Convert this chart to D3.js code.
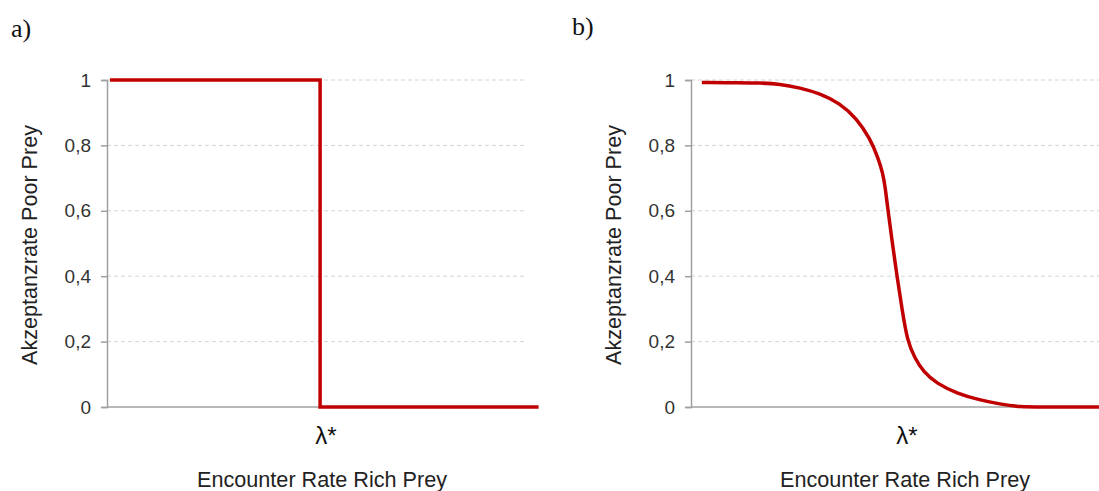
<!DOCTYPE html>
<html>
<head>
<meta charset="utf-8">
<script src="https://cdn.jsdelivr.net/npm/d3@7"></script>
<style>
  html, body { margin: 0; padding: 0; background: #fff; }
  svg { display: block; }
  text { font-family: "Liberation Sans", Arial, sans-serif; }
</style>
</head>
<body>
<svg id="chart" width="1099" height="491"></svg>
<script>
// ---- data ----
const yTicks = [0, 0.2, 0.4, 0.6, 0.8, 1];
const yTickLabels = ["0", "0,2", "0,4", "0,6", "0,8", "1"];
const panelLabels = ["a)", "b)"];
const xTitle = "Encounter Rate Rich Prey";
const yTitle = "Akzeptanzrate Poor Prey";
const lambdaLabel = "λ*";
const lambdaA = 52.5;
const lambdaB = 51.8;

// panel a: step function
const stepX = [0.7, 51.1, 51.1, 103.5];
const stepY = [1, 1, 0, 0];

// panel b: smooth decline
const smoothX = [2.6, 12, 16.5, 21.3, 26.1, 30.9, 35.7, 39.7, 42.9, 44.9, 46.0, 46.6, 47.2, 48.3, 49.4, 50.6, 51.9, 53.7, 55.7, 58.9, 63.7, 69.3, 74.1, 78.5, 85, 100];
const smoothY = [0.992, 0.992, 0.991, 0.988, 0.976, 0.959, 0.929, 0.883, 0.822, 0.761, 0.715, 0.670, 0.605, 0.500, 0.400, 0.300, 0.200, 0.149, 0.108, 0.072, 0.042, 0.021, 0.009, 0, 0, 0];

// ---- drawing ----
const svg = d3.select("#chart");
svg.append("rect").attr("width", 1099).attr("height", 491).attr("fill", "#fff");

function drawPanel(opt) {
  const x = d3.scaleLinear().domain([0, 100]).range([opt.left, opt.left + 417]);
  const y = d3.scaleLinear().domain([0, 1]).range([407, 80]);
  const g = svg.append("g");

  // gridlines
  g.selectAll(".grid").data(yTicks.filter(d => d > 0)).enter().append("line")
    .attr("x1", x(0)).attr("x2", x(100))
    .attr("y1", d => y(d)).attr("y2", d => y(d))
    .attr("stroke", "#d4d4d4").attr("stroke-width", 1)
    .attr("stroke-dasharray", "4,3");

  // y axis
  const yAxis = d3.axisLeft(y).tickValues(yTicks)
    .tickFormat((d, i) => yTickLabels[i]).tickSize(6).tickPadding(10);
  const ya = g.append("g").attr("transform", `translate(${x(0)},0)`).call(yAxis);
  ya.select(".domain").attr("stroke", "#a0a0a0").attr("stroke-width", 1.5);
  ya.selectAll(".tick line").attr("stroke", "#a0a0a0").attr("stroke-width", 1.5);
  ya.selectAll(".tick text").attr("fill", "#333").style("font-size", "19px")
    .style("font-family", '"Liberation Sans", Arial, sans-serif');

  // x axis baseline
  g.append("line").attr("x1", x(0)).attr("x2", x(100))
    .attr("y1", y(0)).attr("y2", y(0))
    .attr("stroke", "#a0a0a0").attr("stroke-width", 1.5);

  // data line
  const pts = opt.xs.map((v, i) => [v, opt.ys[i]]);
  const line = d3.line().x(d => x(d[0])).y(d => y(d[1])).curve(opt.curve);
  g.append("path").datum(pts).attr("d", line)
    .attr("fill", "none").attr("stroke", "#c00000").attr("stroke-width", 3.5)
    .attr("stroke-linejoin", "miter");

  // lambda label
  g.append("text").attr("x", x(opt.lambda)).attr("y", 444)
    .attr("text-anchor", "middle").attr("fill", "#111")
    .style("font-size", "24px").text(lambdaLabel);

  // x title
  g.append("text").attr("x", opt.titleX).attr("y", 487)
    .attr("text-anchor", "middle").attr("fill", "#222")
    .style("font-size", "22px")
    .attr("textLength", 250).attr("lengthAdjust", "spacingAndGlyphs")
    .text(xTitle);

  // y title
  g.append("text")
    .attr("transform", `translate(${x(0) - 70},245) rotate(-90)`)
    .attr("text-anchor", "middle").attr("fill", "#222")
    .style("font-size", "22px")
    .attr("textLength", 240).attr("lengthAdjust", "spacingAndGlyphs")
    .text(yTitle);

  // panel label
  g.append("text").attr("x", opt.labelX).attr("y", opt.labelY)
    .style("font-family", '"Liberation Serif", "Times New Roman", serif')
    .style("font-size", "26px").attr("fill", "#111")
    .text(opt.label);
}

drawPanel({ left: 107, xs: stepX, ys: stepY, curve: d3.curveLinear,
  lambda: lambdaA, titleX: 322, label: panelLabels[0], labelX: 11, labelY: 37 });
drawPanel({ left: 691, xs: smoothX, ys: smoothY, curve: d3.curveBasis,
  lambda: lambdaB, titleX: 905, label: panelLabels[1], labelX: 572, labelY: 35 });
</script>
</body>
</html>
